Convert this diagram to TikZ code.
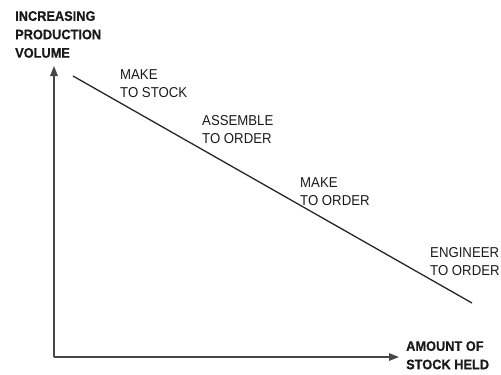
\documentclass[tikz,border=0pt]{standalone}
\usepackage{fontspec}
\setmainfont{Liberation Sans}
\newfontfamily\labelfont[FakeStretch=0.92]{Liberation Sans}
\newfontfamily\axisfont[FakeStretch=0.93,FakeBold=0.6]{Liberation Sans Bold}
\usetikzlibrary{arrows.meta}
\begin{document}
\begin{tikzpicture}[x=1bp,y=-1bp,
  axis/.style={draw=black!72,line width=1.4bp,-{Triangle[length=10bp,width=7.5bp]}},
  trend/.style={draw=black!85,line width=1.3bp},
  axislabel/.style={anchor=north west,inner sep=0pt,align=left,
    font=\axisfont\fontsize{13.8}{18.5}\selectfont,text=black!90},
  strategy/.style={anchor=north west,inner sep=0pt,align=left,
    font=\labelfont\fontsize{14.4}{18.5}\selectfont,text=black!90}]
  \useasboundingbox (0,0) rectangle (501,374);

  % axes
  \coordinate (origin) at (54,357);
  \coordinate (ytip) at (54,66);
  \coordinate (xtip) at (399,357);
  \draw[axis] (origin) -- (ytip);
  \draw[axis] (origin) -- (xtip);

  % trend line: volume falls as stock held rises
  \coordinate (hi) at (73,76);
  \coordinate (lo) at (472,303);
  \draw[trend] (hi) -- (lo);

  % axis titles
  \node[axislabel] (ylab) at (15,11) {INCREASING\\PRODUCTION\\VOLUME};
  \node[axislabel] (xlab) at (406,341) {AMOUNT OF\\STOCK HELD};

  % strategies along the line
  \node[strategy] (mts) at (120,69) {MAKE\\TO STOCK};
  \node[strategy] (ato) at (202,115) {ASSEMBLE\\TO ORDER};
  \node[strategy] (mto) at (300,177) {MAKE\\TO ORDER};
  \node[strategy] (eto) at (430,247) {ENGINEER\\TO ORDER};
\end{tikzpicture}
\end{document}
